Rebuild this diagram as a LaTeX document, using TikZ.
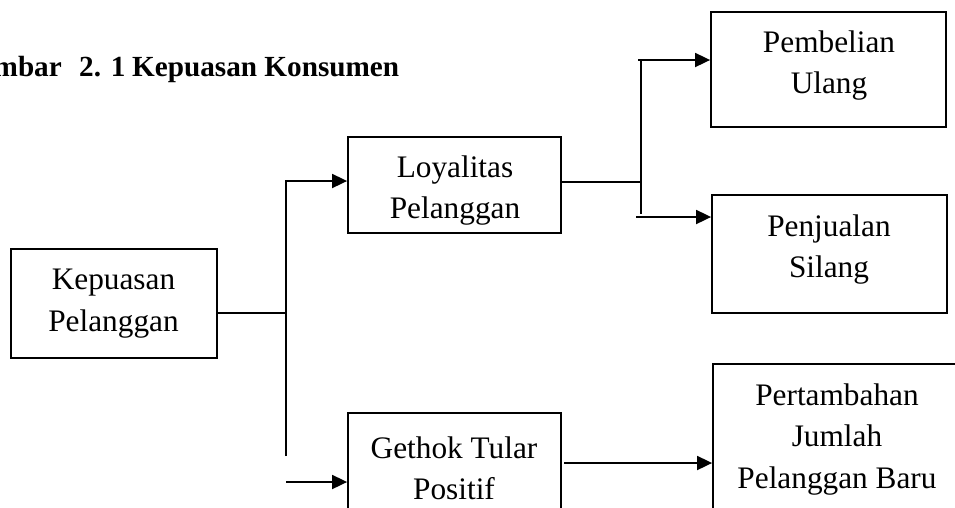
\documentclass[tikz,border=0pt]{standalone}
\usepackage{fontspec}
\setmainfont{Liberation Serif}
\usetikzlibrary{arrows.meta}
\begin{document}
\begin{tikzpicture}[x=1pt,y=-1pt,
  box/.style={draw,line width=1.8pt,inner sep=0pt},
  txt/.style={align=center,inner sep=0pt,font=\fontsize{31.3}{41.5}\selectfont},
  ttl/.style={inner sep=0pt,font=\fontsize{29.2}{35}\selectfont\bfseries},
  conn/.style={line width=1.8pt},
  arr/.style={conn,-{Triangle[length=15pt,width=14pt]}}]
\useasboundingbox (0,0) rectangle (955,507);
\clip (0,0) rectangle (955,507);
% title
\node[ttl,anchor=base east] (t1) at (62,76) {Gambar};
\node[ttl,anchor=base west] (t2) at (79,76) {2. 1};
\node[ttl,anchor=base west] (t3) at (132,76) {Kepuasan Konsumen};
% boxes
\node[box,minimum width=206pt,minimum height=109pt] (kep) at (114,303.5) {};
\node[box,minimum width=213pt,minimum height=96pt] (loy) at (454.5,185) {};
\node[box,minimum width=235pt,minimum height=115pt] (pem) at (828.5,69.5) {};
\node[box,minimum width=235pt,minimum height=118pt] (pen) at (829.5,254) {};
\node[box,minimum width=213pt,minimum height=117pt] (get) at (454.5,471.5) {};
\node[box,minimum width=248pt,minimum height=196pt] (per) at (837,462) {};
% texts
\node[txt] (kept) at (113.5,303.5) {Kepuasan\\Pelanggan};
\node[txt] (loyt) at (455,190.5) {Loyalitas\\Pelanggan};
\node[txt] (pemt) at (829,65.5) {Pembelian\\Ulang};
\node[txt] (pent) at (829,249.5) {Penjualan\\Silang};
\node[txt] (gett) at (454,468.5) {Gethok Tular\\Positif};
\node[txt] (pert) at (837,439.5) {Pertambahan\\Jumlah\\Pelanggan Baru};
% connectors
\coordinate (j1) at (286,313);
\coordinate (vtop) at (286,181);
\coordinate (vbot) at (286,456);
\coordinate (gstart) at (286,482);
\draw[conn] (kep.east |- j1) -- (j1);
\draw[arr] (vbot) -- (vtop) -- (loy.west |- vtop);
\draw[arr] (gstart) -- (get.west |- gstart);
\coordinate (j2) at (641,182);
\coordinate (v2top) at (641,59);
\coordinate (v2bot) at (641,214);
\draw[conn] (loy.east |- j2) -- (j2);
\draw[conn] (v2top) -- (v2bot);
\coordinate (a1) at (638,60);
\coordinate (a2) at (636,217);
\coordinate (a3) at (564,463);
\draw[arr] (a1) -- (pem.west |- a1);
\draw[arr] (a2) -- (pen.west |- a2);
\draw[arr] (a3) -- (per.west |- a3);
\end{tikzpicture}
\end{document}
